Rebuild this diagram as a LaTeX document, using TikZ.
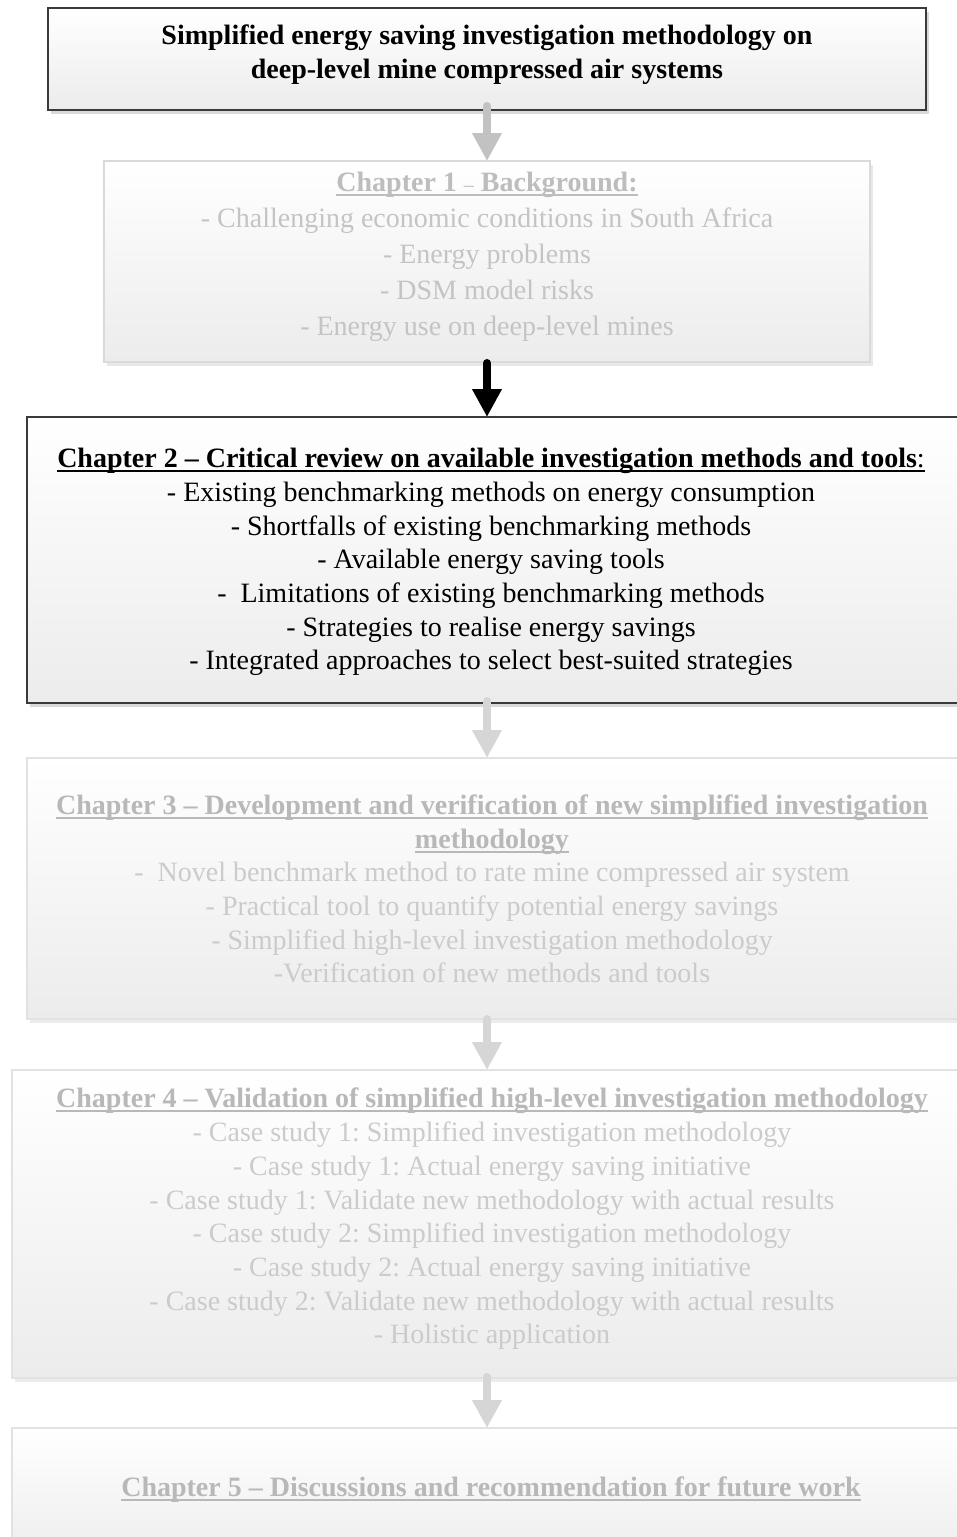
\documentclass[tikz,border=0pt]{standalone}
\usepackage{fontspec}
\setmainfont{Liberation Serif}
\frenchspacing
\usetikzlibrary{arrows.meta,shadows}
\definecolor{chonetitle}{HTML}{BDBDBD}
\definecolor{chonetext}{HTML}{C4C4C4}
\definecolor{fadetitle}{HTML}{B8B8B8}
\definecolor{fadetext}{HTML}{CBCBCB}
\definecolor{darkborder}{HTML}{3A3A3A}
\definecolor{lightborder}{HTML}{DADADA}
\definecolor{fadeborder}{HTML}{E2E2E2}
\definecolor{arrowone}{HTML}{C2C2C2}
\definecolor{arrowfade}{HTML}{D6D6D6}
\newcommand\myul[1]{\setbox0=\hbox{#1}\rlap{\rule[-4.5pt]{\wd0}{2pt}}\box0}
\begin{document}
\frenchspacing
\begin{tikzpicture}[x=1pt,y=-1pt,
  boxbase/.style={rectangle, inner sep=0pt, outer sep=0pt, anchor=north west,
    top color=white, bottom color=gray!15, line width=1.5pt},
  boxdark/.style={boxbase, draw=darkborder,
    drop shadow={shadow xshift=3pt, shadow yshift=-4pt, fill=gray!30, opacity=1}},
  boxlight/.style={boxbase, draw=lightborder,
    drop shadow={shadow xshift=3pt, shadow yshift=-4pt, fill=gray!18, opacity=1}},
  boxfade/.style={boxbase, draw=fadeborder,
    drop shadow={shadow xshift=3pt, shadow yshift=-4pt, fill=gray!15, opacity=1}},
  txt/.style={align=center, inner sep=0pt, font=\fontsize{28}{33.7}\selectfont\frenchspacing},
  flowarrow/.style={line width=8pt, line cap=round, -{Triangle[length=28pt,width=28pt]}},
]
\useasboundingbox (0,0) rectangle (957,1537);
\clip (0,0) rectangle (957,1537);

% boxes
\node[boxdark, minimum width=878pt, minimum height=102pt] (b0) at (48,8) {};
\node[boxlight, minimum width=766pt, minimum height=201pt] (b1) at (104,161) {};
\node[boxdark, minimum width=950pt, minimum height=286pt] (b2) at (27,417) {};
\node[boxfade, minimum width=950pt, minimum height=261pt] (b3) at (27,758) {};
\node[boxfade, minimum width=965pt, minimum height=308pt] (b4) at (12,1070) {};
\node[boxfade, minimum width=965pt, minimum height=140pt] (b5) at (12,1428) {};

% texts
\node[txt] (t0) at (487,55) {\bfseries Simplified energy saving investigation methodology on\\ \bfseries deep-level mine compressed air systems};

\node[txt, font=\fontsize{28}{36}\selectfont\frenchspacing, text=chonetext] (t1) at (487,257)
 {{\color{chonetitle}\myul{\bfseries Chapter 1 {\mdseries\fontsize{20}{20}\selectfont –} Background:}}\\
  - Challenging economic conditions in South Africa\\
  - Energy problems\\
  - DSM model risks\\
  - Energy use on deep-level mines};

\node[txt] (t2) at (491,562)
 {\myul{\textbf{Chapter 2 – Critical review on available investigation methods and tools}:}\\
  - Existing benchmarking methods on energy consumption\\
  - Shortfalls of existing benchmarking methods\\
  - Available energy saving tools\\
  -\ \ Limitations of existing benchmarking methods\\
  - Strategies to realise energy savings\\
  - Integrated approaches to select best-suited strategies};

\node[txt, text=fadetext] (t3) at (492,889)
 {{\color{fadetitle}\bfseries\myul{Chapter 3 – Development and verification of new simplified investigation}}\\
  {\color{fadetitle}\bfseries\myul{methodology}}\\
  -\ \ Novel benchmark method to rate mine compressed air system\\
  - Practical tool to quantify potential energy savings\\
  - Simplified high-level investigation methodology\\
  -Verification of new methods and tools};

\node[txt, text=fadetext] (t4) at (492,1219)
 {{\color{fadetitle}\bfseries\myul{Chapter 4 – Validation of simplified high-level investigation methodology}}\\
  - Case study 1: Simplified investigation methodology\\
  - Case study 1: Actual energy saving initiative\\
  - Case study 1: Validate new methodology with actual results\\
  - Case study 2: Simplified investigation methodology\\
  - Case study 2: Actual energy saving initiative\\
  - Case study 2: Validate new methodology with actual results\\
  - Holistic application};

\node[txt, text=fadetitle] (t5) at (491,1490)
 {\bfseries\myul{Chapter 5 – Discussions and recommendation for future work}};

% connectors
\coordinate (s1) at (b0.south);
\coordinate (s2) at (b1.south);
\coordinate (s3) at (b1.south |- b2.south);
\coordinate (s4) at (b1.south |- b3.south);
\coordinate (s5) at (b1.south |- b4.south);
\draw[flowarrow, draw=arrowone, fill=arrowone] ([yshift=4pt]s1) -- (b1.north);
\draw[flowarrow, draw=black, fill=black] ([yshift=-1pt]s2) -- (b1.south |- b2.north);
\draw[flowarrow, draw=arrowfade, fill=arrowfade] ([yshift=2pt]s3) -- (b1.south |- b3.north);
\draw[flowarrow, draw=arrowfade, fill=arrowfade] ([yshift=0pt]s4) -- (b1.south |- b4.north);
\draw[flowarrow, draw=arrowfade, fill=arrowfade] ([yshift=1pt]s5) -- (b1.south |- b5.north);
\end{tikzpicture}
\end{document}
